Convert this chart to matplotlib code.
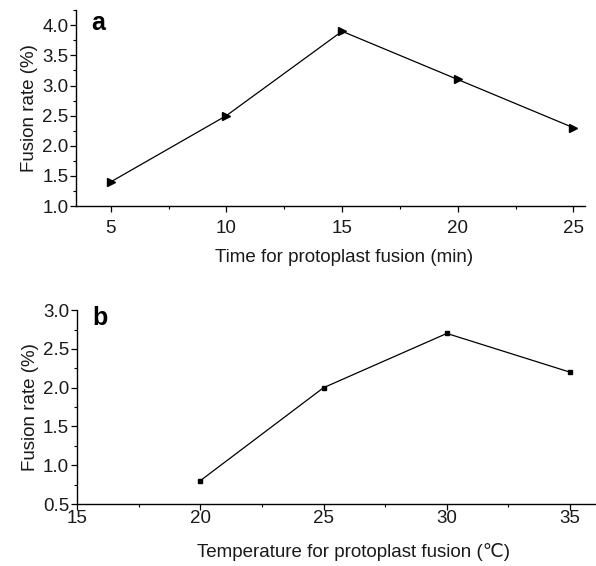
import matplotlib
matplotlib.use("Agg")
import matplotlib.pyplot as plt
from matplotlib.ticker import MultipleLocator, FormatStrFormatter

plt.rcParams['font.family'] = ['Liberation Sans', 'DejaVu Sans', 'Noto Sans CJK SC']

# panel a: fusion time
time_min = [5, 10, 15, 20, 25]
rate_time = [1.4, 2.5, 3.9, 3.1, 2.3]

# panel b: fusion temperature
temp_c = [20, 25, 30, 35]
rate_temp = [0.8, 2.0, 2.7, 2.2]

TXT = "#1a1a1a"


def style_axes(ax, xpad):
    for side in ("top", "right"):
        ax.spines[side].set_visible(False)
    for side in ("left", "bottom"):
        ax.spines[side].set_linewidth(1.0)
    ax.tick_params(which="major", direction="out", length=4, width=0.9,
                   labelsize=13.5, labelcolor=TXT)
    ax.tick_params(which="minor", direction="out", length=2.5, width=0.8)
    ax.tick_params(axis="x", which="major", pad=xpad)
    ax.tick_params(axis="y", which="major", pad=1.5)
    ax.xaxis.set_major_locator(MultipleLocator(5))
    ax.xaxis.set_minor_locator(MultipleLocator(2.5))
    ax.yaxis.set_major_locator(MultipleLocator(0.5))
    ax.yaxis.set_minor_locator(MultipleLocator(0.25))
    ax.yaxis.set_major_formatter(FormatStrFormatter("%.1f"))


fig = plt.figure(figsize=(5.96, 5.66), dpi=100)

# --- a ---
ax1 = fig.add_axes([0.1275, 0.636, 0.854, 0.346])
ax1.plot(time_min, rate_time, color="black", lw=0.9,
         marker=">", ms=5.5, mfc="black", mec="black")
ax1.set_xlim(3.5, 25.5)
ax1.set_ylim(1.0, 4.25)
style_axes(ax1, xpad=6)
ax1.set_xlabel("Time for protoplast fusion (min)", fontsize=13.5,
               color=TXT, labelpad=9, x=0.527)
ax1.set_ylabel("Fusion rate (%)", fontsize=13.5, color=TXT, labelpad=3)
ax1.text(0.03, 0.995, "a", transform=ax1.transAxes, fontsize=18,
         fontweight="bold", va="top", ha="left")

# --- b ---
ax2 = fig.add_axes([0.129, 0.1095, 0.869, 0.3425])
ax2.plot(temp_c, rate_temp, color="black", lw=0.9,
         marker="s", ms=3.5, mfc="black", mec="black")
ax2.set_xlim(15, 36)
ax2.set_ylim(0.5, 3.0)
style_axes(ax2, xpad=0)
ax2.set_xlabel("Temperature for protoplast fusion (\u2103)", fontsize=13.5,
               color=TXT, labelpad=12, x=0.535)
ax2.set_ylabel("Fusion rate (%)", fontsize=13.5, color=TXT, labelpad=3)
ax2.text(0.03, 1.02, "b", transform=ax2.transAxes, fontsize=18,
         fontweight="bold", va="top", ha="left")

fig.savefig("out.png", dpi=100)
